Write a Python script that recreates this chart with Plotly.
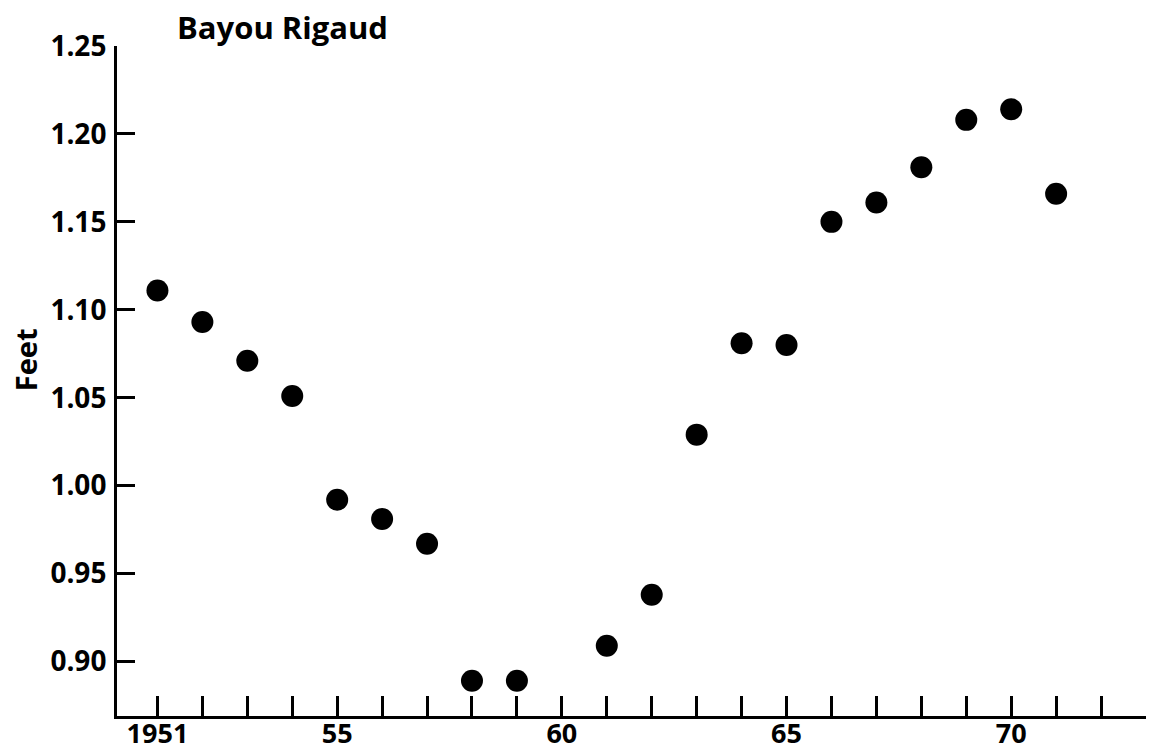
import plotly.graph_objects as go

years = [1951, 1952, 1953, 1954, 1955, 1956, 1957, 1958, 1959, 1961,
         1962, 1963, 1964, 1965, 1966, 1967, 1968, 1969, 1970, 1971]
feet = [1.111, 1.093, 1.071, 1.051, 0.992, 0.981, 0.967, 0.889, 0.889, 0.909,
        0.938, 1.029, 1.081, 1.080, 1.150, 1.161, 1.181, 1.208, 1.214, 1.166]

x_tickvals = [1951, 1955, 1960, 1965, 1970]
x_ticktext = ["1951", "55", "60", "65", "70"]

y_tickvals = [0.90, 0.95, 1.00, 1.05, 1.10, 1.15, 1.20, 1.25]
y_ticktext = ["0.90", "0.95", "1.00", "1.05", "1.10", "1.15", "1.20", "1.25"]

title_text = "Bayou Rigaud"
y_title = "Feet"

FONT = "Open Sans"

fig = go.Figure()
fig.add_trace(go.Scatter(
    x=years, y=feet, mode="markers",
    marker=dict(color="black", size=22, line=dict(width=0)),
    showlegend=False,
))

fig.update_layout(
    width=1149, height=750,
    paper_bgcolor="white", plot_bgcolor="white",
    margin=dict(l=117, r=3, t=46, b=34, autoexpand=False),
    font=dict(family=FONT, color="black", size=28, weight="bold"),
    xaxis=dict(
        range=[1950.1, 1973.0],
        tickvals=x_tickvals, ticktext=x_ticktext,
        ticks="inside", ticklen=20, tickwidth=3, tickcolor="black",
        minor=dict(ticks="inside", ticklen=20, tickwidth=3, tickcolor="black",
                   tick0=1951, dtick=1, showgrid=False),
        showline=True, linewidth=3, linecolor="black",
        showgrid=False, zeroline=False,
        tickfont=dict(family=FONT, size=27, color="black", weight="bold"),
        ticklabelstandoff=-8,
        automargin=False,
    ),
    yaxis=dict(
        range=[0.869, 1.25],
        tickvals=y_tickvals, ticktext=y_ticktext,
        ticks="inside", ticklen=18, tickwidth=3, tickcolor="black",
        showline=True, linewidth=3, linecolor="black",
        showgrid=False, zeroline=False,
        tickfont=dict(family=FONT, size=28, color="black", weight="bold"),
        ticklabelstandoff=2,
        automargin=False,
    ),
    annotations=[
        dict(text=title_text, xref="paper", yref="paper",
             x=0.0564, y=1.028, xanchor="left", yanchor="middle",
             showarrow=False,
             font=dict(family=FONT, size=31, color="black", weight="bold")),
        dict(text=y_title, xref="paper", yref="paper",
             x=-0.0894, y=0.531, xanchor="center", yanchor="middle",
             textangle=-90, showarrow=False,
             font=dict(family=FONT, size=29, color="black", weight="bold")),
    ],
)

fig.write_html("out.html",
               config={"displayModeBar": False},
               post_script="document.body.style.margin='0';document.body.style.overflow='hidden';")
